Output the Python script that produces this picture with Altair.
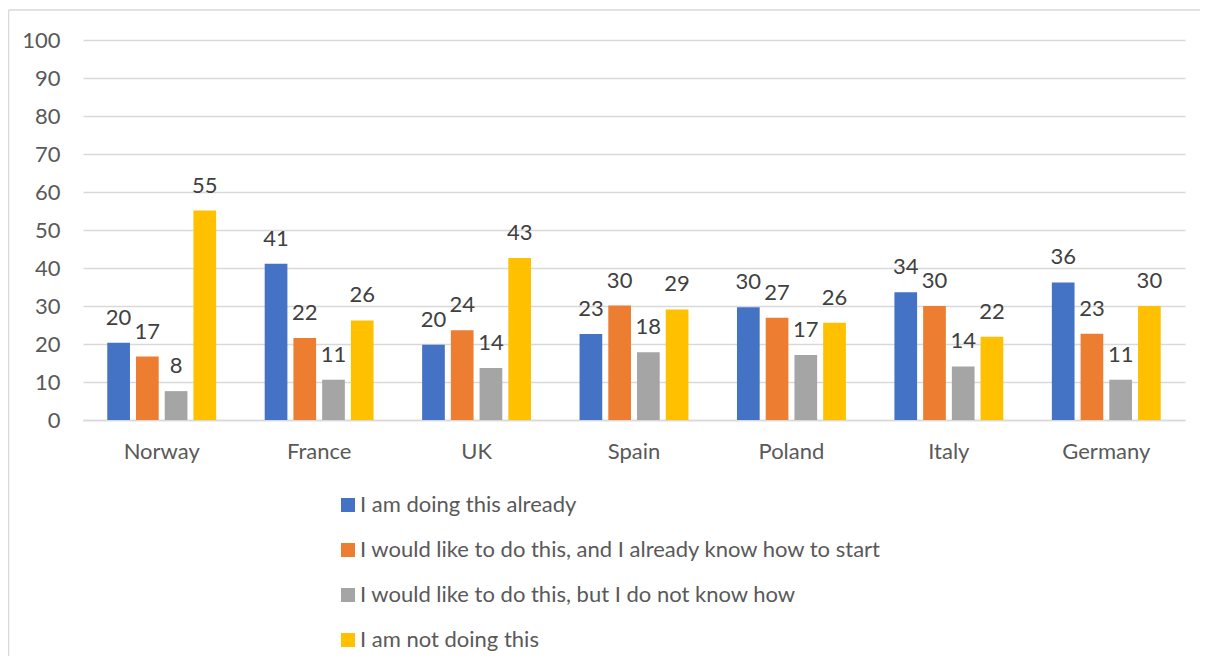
import altair as alt
import pandas as pd

countries = ["Norway", "France", "UK", "Spain", "Poland", "Italy", "Germany"]
series = [
    "I am doing this already",
    "I would like to do this, and I already know how to start",
    "I would like to do this, but I do not know how",
    "I am not doing this",
]
doing_already = [20.3, 41.1, 19.8, 22.6, 29.7, 33.6, 36.2]
like_know_how = [16.7, 21.6, 23.6, 30.1, 26.9, 30.0, 22.7]
like_not_know = [7.6, 10.6, 13.7, 17.8, 17.1, 14.1, 10.6]
not_doing = [55.1, 26.2, 42.6, 29.1, 25.6, 21.9, 30.0]
colors = ["#4472C4", "#ED7D31", "#A5A5A5", "#FFC000"]
y_ticks = list(range(0, 101, 10))

rows = []
for s, vals in zip(series, [doing_already, like_know_how, like_not_know, not_doing]):
    for c, v in zip(countries, vals):
        rows.append({"country": c, "series": s, "value": v})
df = pd.DataFrame(rows)

FONT = "Lato"
FS = 22

base = alt.Chart(df).encode(
    x=alt.X(
        "country:N",
        sort=countries,
        scale=alt.Scale(paddingInner=0.27, paddingOuter=0.135),
        axis=alt.Axis(
            title=None, labelAngle=0, ticks=False, tickSize=0, labelPadding=21,
            labelFont=FONT, labelFontSize=FS, labelColor="#595959",
            domain=True, domainColor="#D9D9D9", domainWidth=1.5, grid=False,
        ),
    ),
    xOffset=alt.XOffset(
        "series:N", sort=series,
        scale=alt.Scale(paddingInner=0.21, paddingOuter=0.105),
    ),
    y=alt.Y(
        "value:Q",
        scale=alt.Scale(domain=[0, 100], nice=False),
        axis=alt.Axis(
            title=None, values=y_ticks, ticks=False, tickSize=0, labelPadding=23,
            labelFont=FONT, labelFontSize=FS, labelColor="#595959",
            domain=False, grid=True, gridColor="#D9D9D9", gridWidth=1.3,
        ),
    ),
)

bars = base.mark_bar().encode(
    color=alt.Color(
        "series:N",
        sort=series,
        scale=alt.Scale(domain=series, range=colors),
        legend=alt.Legend(
            title=None, orient="none", legendX=254, legendY=454,
            direction="vertical", symbolType="square", symbolSize=196,
            symbolStrokeWidth=0, labelFont=FONT, labelFontSize=FS,
            labelColor="#595959", rowPadding=23, labelOffset=1, labelLimit=1000,
        ),
    )
)

labels = base.mark_text(
    font=FONT, fontSize=FS, color="#404040", baseline="alphabetic", dy=-18
).encode(text=alt.Text("value:Q", format=".0f"))

frame_df = pd.DataFrame({"a": [0]})
frame_left = alt.Chart(frame_df).mark_rule(color="#D9D9D9", strokeWidth=1.5).encode(
    x=alt.value(-74.5), y=alt.value(-30), y2=alt.value(660)
)
frame_top = alt.Chart(frame_df).mark_rule(color="#D9D9D9", strokeWidth=1.5).encode(
    x=alt.value(-74.5), x2=alt.value(1140), y=alt.value(-30)
)

chart = alt.layer(frame_left, frame_top, bars, labels).properties(
    width=1102,
    height=380,
    background="white",
    padding={"left": 75, "top": 32, "right": 15, "bottom": 236},
    autosize=alt.AutoSizeParams(type="none"),
).configure_view(strokeWidth=0, stroke="transparent")

chart.save("out.html", embed_options={"renderer": "svg", "actions": False})
